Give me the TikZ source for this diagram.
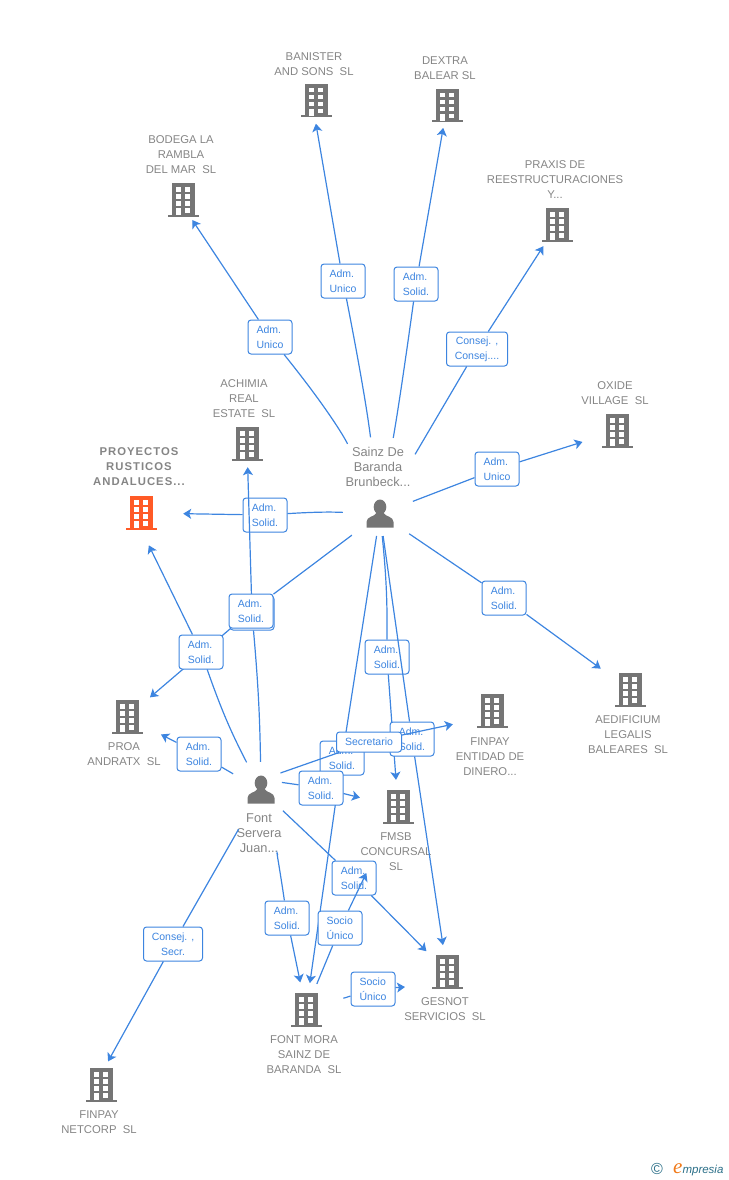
\documentclass[tikz,border=0pt]{standalone}
\usepackage{fontspec}
\usetikzlibrary{arrows.meta}
\setmainfont{Liberation Sans}
\newfontfamily\spacedbold[LetterSpace=9]{Liberation Sans Bold}
\newfontfamily\logofont{Liberation Serif}
\definecolor{linkblue}{HTML}{3D85E0}
\definecolor{towergray}{HTML}{757575}
\definecolor{textgray}{HTML}{858585}
\definecolor{towerred}{HTML}{FF5A26}
\definecolor{logoteal}{HTML}{2B6F88}
\definecolor{logoorange}{HTML}{F07A1A}
\tikzset{
    hub/.style={circle,minimum size=44pt,inner sep=0pt},
    cotext/.style={text=textgray,align=center,inner sep=0pt,font=\fontsize{11.3}{15}\selectfont},
    petext/.style={text=textgray,align=center,inner sep=0pt,font=\fontsize{12.8}{15}\selectfont},
    role/.style={draw=linkblue,fill=white,rounded corners=3pt,line width=1pt,text=linkblue,
        minimum width=44pt,minimum height=34pt,inner sep=1pt,align=left,
        font=\fontsize{10.5}{15}\selectfont},
    link/.style={draw=linkblue,line width=1.2pt},
    linkto/.style={link,-{Stealth[length=8pt,width=10pt,inset=2pt]}},
    pics/tower/.style={code={
        \fill[#1] (-11.5,-17) rectangle (11.5,15);
        \fill[#1] (-15.5,14.5) rectangle (15.5,16.5);
        \foreach \wy in {-13,-6,1} {
            \fill[white] (-7.5,\wy) rectangle (-2.5,\wy+4.5);
            \fill[white] (2,\wy) rectangle (7,\wy+4.5);
        }
        \fill[white] (-7.5,8) rectangle (-2.5,15);
        \fill[white] (2,8) rectangle (7,12.5);
    }},
    pics/person/.style={code={
        \fill[towergray] (0,-7) ellipse (6.3 and 7.5);
        \fill[towergray] (-13.5,13.5) -- (-13.5,8) .. controls (-13.5,2.5) and (-6,3) .. (-3.5,-1)
            -- (3.5,-1) .. controls (6,3) and (13.5,2.5) .. (13.5,8) -- (13.5,13.5) -- cycle;
    }},
}
\begin{document}
\begin{tikzpicture}[x=1pt,y=-1pt]
    \useasboundingbox (0,0) rectangle (728,1180);

    % companies
    \node[hub] (banister) at (316,101) {};
    \pic at (banister) {tower=towergray};
    \node[cotext] (banistertxt) at (314,64.5) {BANISTER\\AND SONS~ SL};
    \node[hub] (dextra) at (447,106) {};
    \pic at (dextra) {tower=towergray};
    \node[cotext] (dextratxt) at (445,68.5) {DEXTRA\\BALEAR SL};
    \node[hub] (bodega) at (183,200) {};
    \pic at (bodega) {tower=towergray};
    \node[cotext] (bodegatxt) at (181,155) {BODEGA LA\\RAMBLA\\DEL MAR~ SL};
    \node[hub] (praxis) at (557,225) {};
    \pic at (praxis) {tower=towergray};
    \node[cotext] (praxistxt) at (555,180) {PRAXIS DE\\REESTRUCTURACIONES\\Y...};
    \node[hub] (achimia) at (247,444) {};
    \pic at (achimia) {tower=towergray};
    \node[cotext] (achimiatxt) at (244,399) {ACHIMIA\\REAL\\ESTATE~ SL};
    \node[hub] (oxide) at (617,431) {};
    \pic at (oxide) {tower=towergray};
    \node[cotext] (oxidetxt) at (615,393.5) {OXIDE\\VILLAGE~ SL};
    \node[hub] (proyectos) at (141,513) {};
    \pic at (proyectos) {tower=towerred};
    \node[cotext,font=\spacedbold\fontsize{11.3}{15}\selectfont] (proyectostxt) at (139,467) {PROYECTOS\\RUSTICOS\\ANDALUCES...};
    \node[hub] (proa) at (127,717) {};
    \pic at (proa) {tower=towergray};
    \node[cotext] (proatxt) at (124,754.5) {PROA\\ANDRATX~ SL};
    \node[hub] (aedificium) at (630,690) {};
    \pic at (aedificium) {tower=towergray};
    \node[cotext] (aedificiumtxt) at (628,735) {AEDIFICIUM\\LEGALIS\\BALEARES~ SL};
    \node[hub] (entidad) at (492,711) {};
    \pic at (entidad) {tower=towergray};
    \node[cotext] (entidadtxt) at (490,757) {FINPAY\\ENTIDAD DE\\DINERO...};
    \node[hub] (fmsb) at (398,807) {};
    \pic at (fmsb) {tower=towergray};
    \node[cotext] (fmsbtxt) at (396,852) {FMSB\\CONCURSAL\\SL};
    \node[hub] (gesnot) at (447,972) {};
    \pic at (gesnot) {tower=towergray};
    \node[cotext] (gesnottxt) at (445,1009.5) {GESNOT\\SERVICIOS~ SL};
    \node[hub] (fontmora) at (306,1010) {};
    \pic at (fontmora) {tower=towergray};
    \node[cotext] (fontmoratxt) at (304,1055) {FONT MORA\\SAINZ DE\\BARANDA~ SL};
    \node[hub] (netcorp) at (101,1085) {};
    \pic at (netcorp) {tower=towergray};
    \node[cotext] (netcorptxt) at (99,1122.5) {FINPAY\\NETCORP~ SL};
    \coordinate (gesnotw) at (405,987);

    % people
    \node[hub] (sainz) at (380,514) {};
    \pic at (sainz) {person};
    \node[petext] (sainztxt) at (378,467) {Sainz De\\Baranda\\Brunbeck...};
    \node[hub] (servera) at (261,790) {};
    \pic at (servera) {person};
    \node[petext] (serveratxt) at (259,833) {Font\\Servera\\Juan...};

    % Sainz De Baranda
    \node[role] (rbodega) at (270,337) {Adm.\\Unico};
    \draw[link,shorten <=55pt] (sainz) to[bend right=7] (rbodega);
    \draw[linkto,shorten >=24pt] (rbodega) -- ([xshift=-4pt]bodega.center);
    \node[role] (rbanister) at (343,281) {Adm.\\Unico};
    \draw[link,shorten <=55pt] (sainz) to[bend right=2] (rbanister);
    \draw[linkto,shorten >=23pt] (rbanister) -- ([xshift=-4pt]banister.center);
    \node[role] (rdextra) at (416,284) {Adm.\\Solid.};
    \draw[link,shorten <=55pt] (sainz) to[bend right=1] (rdextra);
    \draw[linkto] (rdextra) -- (dextra);
    \node[role,minimum width=61pt,align=center] (rpraxis) at (477,349) {Consej. ,\\Consej....};
    \draw[link,shorten <=47pt] (sainz) -- (rpraxis);
    \draw[linkto,shorten >=3pt] (rpraxis) -- (praxis);
    \node[role] (roxide) at (497,469) {Adm.\\Unico};
    \draw[link,shorten <=13pt] (sainz) -- (roxide);
    \draw[linkto,shorten >=14pt] (roxide) -- (oxide);
    \node[role] (raedificium) at (504,598) {Adm.\\Solid.};
    \draw[link,shorten <=13pt] (sainz) -- (raedificium);
    \draw[linkto,shorten >=14pt] (raedificium) -- (aedificium);
    \node[role] (rproyectos) at (265,515) {Adm.\\Solid.};
    \draw[link,shorten <=15pt] (sainz) to[bend right=3] (rproyectos);
    \draw[linkto,shorten >=20pt] (rproyectos) -- (proyectos);

    % Font Servera, upper left
    \node[role] (rachimia) at (252,613) {Adm.\\Solid.};
    \draw[link,shorten <=6pt] (servera) to[bend right=2] (rachimia);
    \draw[linkto,shorten >=1pt] (rachimia) -- (achimia);
    \node[role] (rproa) at (251,611) {Adm.\\Solid.};
    \draw[link,shorten <=13pt] (sainz) -- (rproa);
    \draw[linkto,shorten >=8pt] (rproa) -- (proa);
    \node[role] (rproyectosb) at (201,652) {Adm.\\Solid.};
    \draw[link,shorten <=9pt] (servera) to[bend left=4] (rproyectosb);
    \draw[linkto,shorten >=36pt] (rproyectosb) -- ([xshift=-8pt]proyectos.center);
    \node[role] (rproab) at (199,754) {Adm.\\Solid.};
    \draw[link,shorten <=10pt] (servera) -- (rproab);
    \draw[linkto,shorten >=16pt] (rproab) -- (proa);
    \node[role,minimum width=59pt,align=center] (rnetcorp) at (173,944) {Consej. ,\\Secr.};
    \draw[link,shorten <=23pt] (servera) -- (rnetcorp);
    \draw[linkto,shorten >=27pt] (rnetcorp) -- ([xshift=-6pt]netcorp.center);

    % Sainz De Baranda, downwards
    \node[role] (rfmsb) at (387,657) {Adm.\\Solid.};
    \draw[link] (sainz) to[bend left=3] (rfmsb);
    \draw[linkto,shorten >=5pt] (rfmsb) -- (fmsb);
    \node[role] (rgesnot) at (412,739) {Adm.\\Solid.};
    \draw[link] (sainz) -- (rgesnot);
    \draw[linkto,shorten >=5pt] (rgesnot) -- (gesnot);
    \node[role] (rfontmora) at (342,758) {Adm.\\Solid.};
    \draw[link] (sainz) -- (rfontmora);
    \draw[linkto,shorten >=5pt] (rfontmora) -- (fontmora);

    % Font Servera, right and down
    \node[role,minimum width=65pt,minimum height=20pt] (rentidad) at (369,742) {Secretario};
    \draw[link,shorten <=4pt] (servera.45) -- (rentidad);
    \draw[linkto,shorten >=40pt] (rentidad) -- ([yshift=-5pt]entidad.center);
    \node[role] (rfmsbb) at (321,788) {Adm.\\Solid.};
    \draw[link] (servera.20) -- (rfmsbb);
    \draw[linkto,shorten >=17pt] (rfmsbb) -- (fmsb);
    \node[role] (rgesnotb) at (354,878) {Adm.\\Solid.};
    \draw[link,shorten <=8pt] (servera) -- (rgesnotb);
    \draw[linkto,shorten >=7pt] (rgesnotb) -- (gesnot);
    \node[role] (rfontmorab) at (287,918) {Adm.\\Solid.};
    \draw[link,shorten <=45pt] (servera) to[bend left=3] (rfontmorab);
    \draw[linkto,shorten >=6pt] (rfontmorab) -- (fontmora);

    % Font Mora
    \node[role] (rfmsbc) at (340,928) {Socio\\Único};
    \draw[link,shorten <=6pt] (fontmora) -- (rfmsbc);
    \draw[linkto,shorten >=51pt] (rfmsbc) -- (fmsb);
    \node[role] (rgesnotc) at (373,989) {Socio\\Único};
    \draw[link,shorten <=17pt] (fontmora) -- (rgesnotc);
    \draw[linkto] (rgesnotc) -- (gesnotw);

    % logo
    \node[text=logoteal,inner sep=0pt,font=\fontsize{16}{16}\selectfont] (copyr) at (657,1169) {©};
    \node[anchor=base west,inner sep=0pt,font=\itshape\fontsize{11.5}{12}\selectfont,text=logoteal] (logo) at (673,1173.5) {{\color{logoorange}\logofont\itshape\fontsize{21}{21}\selectfont e}mpresia};
\end{tikzpicture}
\end{document}
